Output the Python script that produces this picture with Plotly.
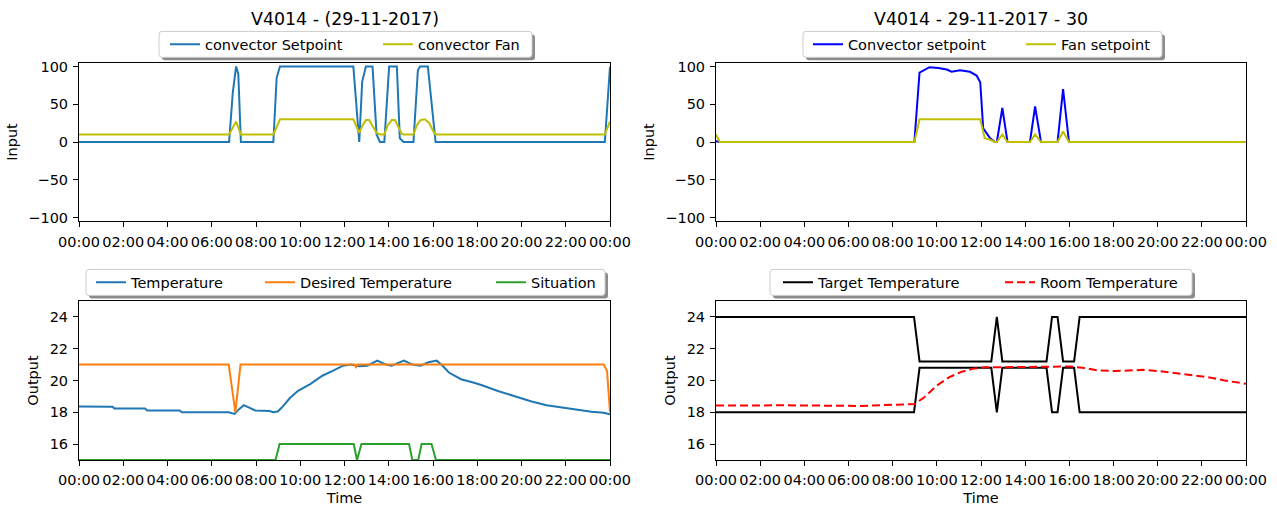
import plotly.graph_objects as go
import pandas as pd

W, H = 1277, 506
DAY = "2017-11-29"

# ---------------- data (times HH:MM on 29-11-2017, "24:00" = next midnight) -------------
tl_sp_t = ["00:00","06:47","06:57","07:06","07:12","07:19","08:47","08:56","09:05","12:24","12:40","12:48","12:58","13:16","13:27","13:36","13:48","14:01","14:22","14:30","14:40","15:07","15:19","15:25","15:46","15:54","16:07","23:46","24:00"]
tl_sp_v = [0,0,65,100,90,0,0,85,100,100,0,80,100,100,10,0,0,100,100,5,0,0,95,100,100,60,0,0,100]

tl_fan_t = ["00:00","06:47","07:06","07:19","08:47","09:05","12:24","12:40","12:49","12:58","13:07","13:16","13:27","13:36","13:48","13:57","14:08","14:17","14:26","14:35","14:40","15:07","15:16","15:26","15:38","15:50","16:01","16:07","23:46","24:00"]
tl_fan_v = [10,10,27,10,10,30,30,12,22,29,29,22,12,10,10,22,29,29,20,11,10,10,22,29,30,25,14,10,10,27]

tr_sp_t = ["00:00","00:10","08:59","09:13","09:40","10:04","10:27","10:40","11:03","11:30","11:48","11:58","12:06","12:25","12:38","12:43","12:58","13:12","14:13","14:27","14:43","15:28","15:43","15:59","24:00"]
tr_sp_v = [1,0,0,92,99,98,96,93,95,93,88,79,18,5,0,0,45,0,0,47,0,0,70,0,0]

tr_fan_t = ["00:00","00:10","08:59","09:13","11:58","12:10","12:25","12:38","12:43","12:58","13:12","14:13","14:27","14:43","15:28","15:43","15:59","24:00"]
tr_fan_v = [10,0,0,30,30,5,3,0,0,10,0,0,10,0,0,14,0,0]

bl_temp_t = ["00:00","01:31","01:36","02:59","03:05","04:33","04:39","06:46","07:02","07:14","07:27","07:41","07:58","08:37","08:47","08:59","09:10","09:32","09:54","10:27","11:00","11:28","11:56","12:17","12:40","13:02","13:29","13:52","14:08","14:41","15:04","15:26","15:48","16:10","16:26","16:43","17:16","17:49","18:11","18:56","19:40","20:25","21:08","21:53","22:37","23:10","23:43","24:00"]
bl_temp_v = [18.37,18.35,18.24,18.24,18.12,18.12,18.0,18.0,17.9,18.2,18.45,18.3,18.12,18.08,18.0,18.05,18.3,18.9,19.35,19.77,20.3,20.6,20.93,21.0,20.9,20.93,21.25,21.0,20.93,21.25,21.0,20.93,21.15,21.25,20.93,20.5,20.08,19.87,19.72,19.34,19.02,18.7,18.45,18.28,18.12,18.03,17.97,17.87]

bl_des_t = ["00:00","06:46","07:04","07:18","12:27","12:31","12:35","23:43","23:52","24:00"]
bl_des_v = [21,21,18,21,21,20.85,21,21,20.6,18]

bl_sit_t = ["00:00","08:53","09:04","12:25","12:34","12:46","14:55","15:04","15:20","15:29","15:56","16:08","24:00"]
bl_sit_v = [15,15,16,16,15,16,16,15,15,16,16,15,15]

br_tgt_t = ["00:00","08:58","09:13","12:28","12:43","12:58","14:58","15:13","15:28","15:43","16:13","16:28","24:00"]
br_tgt_hi = [24,24,21.2,21.2,24,21.2,21.2,24,24,21.2,21.2,24,24]
br_tgt_lo = [18,18,20.8,20.8,18,20.8,20.8,18,18,20.8,20.8,18,18]

br_room_t = ["00:00","03:00","06:30","07:00","08:00","09:00","09:26","10:00","10:33","11:05","11:38","12:11","13:07","14:57","16:03","16:36","17:20","18:04","18:37","19:21","20:05","20:49","21:34","22:17","23:02","24:00"]
br_room_v = [18.42,18.44,18.4,18.42,18.5,18.52,18.95,19.68,20.2,20.53,20.74,20.84,20.84,20.88,20.88,20.8,20.63,20.59,20.63,20.67,20.59,20.46,20.36,20.21,20.0,19.79]

titles = ["V4014 - (29-11-2017)", "V4014 - 29-11-2017 - 30"]
x_ticks_hours = list(range(0, 25, 2))
top_yticks = [-100, -50, 0, 50, 100]
bottom_yticks = [16, 18, 20, 22, 24]


def ts(hhmm):
    h, m = map(int, hhmm.split(":"))
    return pd.Timestamp(DAY) + pd.Timedelta(hours=h, minutes=m)


def times(lst):
    return [ts(t) for t in lst]


def px(x):
    return x / W


def py(y):
    return 1 - y / H


FONT = "DejaVu Sans"
FS = 14.5
BLUE = "#1f77b4"
ORANGE = "#ff7f0e"
GREEN = "#2ca02c"
YEL = "#bfbf00"

fig = go.Figure()

def add(xs, ys, name, color, xa, ya, legend, dash="solid", show=True):
    fig.add_trace(go.Scatter(
        x=times(xs), y=ys, mode="lines", name=name,
        line=dict(color=color, width=2, dash=dash),
        xaxis=xa, yaxis=ya, legend=legend, showlegend=show,
        hoverinfo="x+y+name"))

add(tl_sp_t, tl_sp_v, "convector Setpoint", BLUE, "x", "y", "legend")
add(tl_fan_t, tl_fan_v, "convector Fan", YEL, "x", "y", "legend2")
add(tr_sp_t, tr_sp_v, "Convector setpoint", "#0000ff", "x2", "y2", "legend3")
add(tr_fan_t, tr_fan_v, "Fan setpoint", YEL, "x2", "y2", "legend4")
add(bl_temp_t, bl_temp_v, "Temperature", BLUE, "x3", "y3", "legend5")
add(bl_des_t, bl_des_v, "Desired Temperature", ORANGE, "x3", "y3", "legend6")
add(bl_sit_t, bl_sit_v, "Situation", GREEN, "x3", "y3", "legend7")
add(br_tgt_t, br_tgt_hi, "Target Temperature", "black", "x4", "y4", "legend8")
add(br_tgt_t, br_tgt_lo, "Target Temperature", "black", "x4", "y4", "legend8", show=False)
add(br_room_t, br_room_v, "Room Temperature", "red", "x4", "y4", "legend9", dash="8px,4px")

tickvals_x = [ts("%02d:00" % h) if h < 24 else ts("24:00") for h in x_ticks_hours]

def xaxis(dom, anchor, title=None):
    d = dict(domain=[px(dom[0]), px(dom[1])], anchor=anchor, type="date",
             range=[ts("00:00"), ts("24:00")], tickmode="array", tickvals=tickvals_x,
             ticktext=["%02d:00" % (h % 24) for h in x_ticks_hours],
             ticks="outside", ticklen=5, tickwidth=1, tickcolor="black",
             showline=True, linecolor="black", linewidth=1, mirror=True,
             showgrid=False, zeroline=False, tickangle=0, automargin=False,
             ticklabelstandoff=2,
             tickfont=dict(family=FONT, size=FS, color="black"))
    if title:
        d["title"] = dict(text=title, font=dict(family=FONT, size=FS, color="black"), standoff=5)
    return d

def yaxis(dom, anchor, rng, tv, title):
    return dict(domain=[py(dom[1]), py(dom[0])], anchor=anchor, range=rng,
                tickmode="array", tickvals=tv,
                ticks="outside", ticklen=5, tickwidth=1, tickcolor="black",
                showline=True, linecolor="black", linewidth=1, mirror=True,
                showgrid=False, zeroline=False, automargin=False,
                ticklabelstandoff=2,
                tickfont=dict(family=FONT, size=FS, color="black"),
                title=dict(text=title, font=dict(family=FONT, size=FS, color="black"), standoff=7))

LX = (79, 610)
RX = (716, 1246)
TY = (62.7, 221.3)
BY = (301, 460)

layout = dict(
    width=W, height=H, paper_bgcolor="white", plot_bgcolor="white",
    margin=dict(l=0, r=0, t=0, b=0), autosize=False,
    font=dict(family=FONT, size=FS, color="black"),
    xaxis=xaxis(LX, "y"), yaxis=yaxis(TY, "x", [-105, 105], top_yticks, "Input"),
    xaxis2=xaxis(RX, "y2"), yaxis2=yaxis(TY, "x2", [-105, 105], top_yticks, "Input"),
    xaxis3=xaxis(LX, "y3", "Time"), yaxis3=yaxis(BY, "x3", [15, 25], bottom_yticks, "Output"),
    xaxis4=xaxis(RX, "y4", "Time"), yaxis4=yaxis(BY, "x4", [15, 25], bottom_yticks, "Output"),
)

# legends: one per entry, placed like the matplotlib legend columns
leg_text_x = {"legend": 206, "legend2": 419, "legend3": 849, "legend4": 1062,
              "legend5": 132, "legend6": 301, "legend7": 532,
              "legend8": 819, "legend9": 1041}
leg_y = {"legend": 44.3, "legend2": 44.3, "legend3": 44.3, "legend4": 44.3,
         "legend5": 282.4, "legend6": 282.4, "legend7": 282.4,
         "legend8": 282.4, "legend9": 282.4}
for k, tx in leg_text_x.items():
    layout[k] = dict(orientation="h", x=px(tx - 41), xanchor="left",
                     y=py(leg_y[k]), yanchor="middle",
                     bgcolor="rgba(0,0,0,0)", borderwidth=0,
                     font=dict(family=FONT, size=FS, color="black"))

fig.update_layout(**layout)

# legend frames (with shadow)
def rrect(x0, y0, x1, y1, r=3):
    X = lambda v: px(v)
    Y = lambda v: py(v)
    return (f"M{X(x0+r)},{Y(y0)} L{X(x1-r)},{Y(y0)} Q{X(x1)},{Y(y0)} {X(x1)},{Y(y0+r)} "
            f"L{X(x1)},{Y(y1-r)} Q{X(x1)},{Y(y1)} {X(x1-r)},{Y(y1)} "
            f"L{X(x0+r)},{Y(y1)} Q{X(x0)},{Y(y1)} {X(x0)},{Y(y1-r)} "
            f"L{X(x0)},{Y(y0+r)} Q{X(x0)},{Y(y0)} {X(x0+r)},{Y(y0)} Z")

frames = [(159, 31.4, 532, 57.3), (803, 31.4, 1162, 57.3),
          (86, 269.4, 605, 295.4), (770, 269.4, 1192, 295.4)]
for (x0, y0, x1, y1) in frames:
    fig.add_shape(type="path", xref="paper", yref="paper", layer="below",
                  path=rrect(x0 + 3, y0 + 3, x1 + 3, y1 + 3),
                  fillcolor="rgba(0,0,0,0.45)", line=dict(width=0))
    fig.add_shape(type="path", xref="paper", yref="paper", layer="below",
                  path=rrect(x0, y0, x1, y1),
                  fillcolor="white", line=dict(color="#cccccc", width=1))

# subplot titles
for t, cx in zip(titles, [(LX[0] + LX[1]) / 2, (RX[0] + RX[1]) / 2]):
    fig.add_annotation(text=t, x=px(cx), y=py(18.5), xref="paper", yref="paper",
                       xanchor="center", yanchor="middle", showarrow=False,
                       font=dict(family=FONT, size=17.4, color="black"))

fig.write_html("out.html", config={"displayModeBar": False},
               post_script="document.body.style.margin='0px';")
